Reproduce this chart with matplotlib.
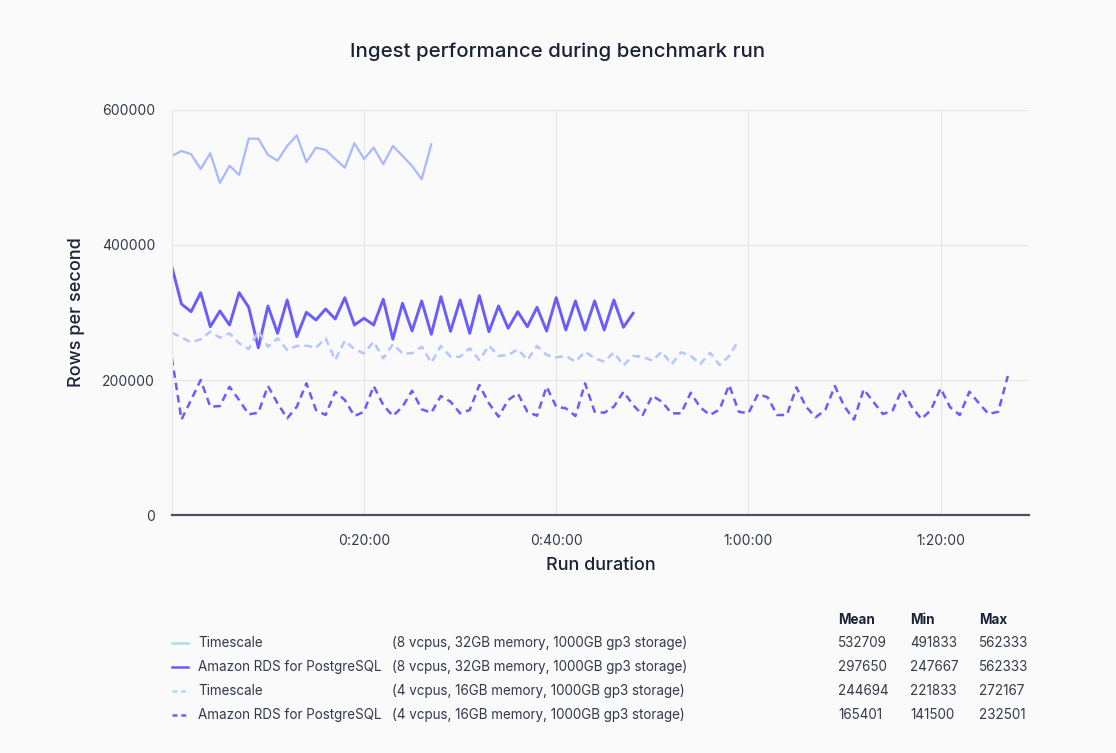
import numpy as np
import matplotlib
matplotlib.use("Agg")
import matplotlib.pyplot as plt
from matplotlib.lines import Line2D
from matplotlib.ticker import FixedLocator

plt.rcParams['font.family'] = ['Inter', 'DejaVu Sans']

# rows per second, one sample per minute of the run
ts_8cpu = [531852, 539259, 534370, 512593, 535852, 491833, 517481, 503704,
           557481, 557481, 533333, 524889, 546667, 562333, 522519, 544148,
           540741, 527407, 514519, 550667, 527407, 544148, 519556, 546667,
           531852, 517037, 497333, 549185]

rds_8cpu = [367852, 312593, 301185, 329333, 278963, 302222, 281481, 329333,
            307704, 247667, 309630, 269185, 318519, 264148, 300296, 288889,
            305185, 290370, 321926, 281481, 291407, 281481, 319556, 260296,
            313630, 272593, 317037, 267704, 323407, 272148, 318519, 269185,
            324889, 271556, 309630, 276593, 301185, 278963, 307704, 272593,
            321926, 274074, 317037, 274074, 317037, 274074, 318519, 278074,
            298815]

ts_4cpu = [270074, 263259, 255852, 260296, 271556, 262667, 269185, 254370,
           245926, 272167, 249333, 261778, 244444, 250370, 250815, 247852,
           261778, 229630, 258222, 245481, 239556, 256741, 232148, 252889,
           239556, 239556, 249333, 225630, 250370, 234519, 234519, 246963,
           229630, 250815, 235556, 237037, 245481, 229630, 250370, 237037,
           233630, 235556, 227111, 241926, 232148, 227111, 241037, 221833,
           235556, 234519, 228593, 241926, 223259, 241037, 235556, 223704,
           240444, 222222, 235556, 259259]

rds_4cpu = [232501, 141500, 170370, 200000, 160444, 161481, 190074, 170370,
            149185, 151556, 191111, 165481, 143259, 160444, 195111, 155556,
            148148, 182667, 170370, 146667, 153037, 191111, 162963, 146667,
            160444, 184148, 156593, 151556, 176296, 167852, 150667, 155556,
            192593, 165481, 145630, 170370, 180296, 153037, 147111, 190074,
            160444, 158074, 146667, 195111, 153037, 151556, 160444, 182667,
            162963, 148148, 176741, 167852, 150667, 150667, 181185, 159259,
            148148, 156296, 192593, 153037, 150667, 179259, 174370, 148148,
            148148, 189185, 160444, 144741, 155556, 191111, 160444, 141500,
            186222, 167852, 149630, 154519, 186222, 160444, 142222, 155556,
            187704, 159556, 148148, 182667, 165481, 149630, 153037, 205926]

names = ["Timescale", "Amazon RDS for PostgreSQL", "Timescale", "Amazon RDS for PostgreSQL"]
specs = ["(8 vcpus, 32GB memory, 1000GB gp3 storage)",
         "(8 vcpus, 32GB memory, 1000GB gp3 storage)",
         "(4 vcpus, 16GB memory, 1000GB gp3 storage)",
         "(4 vcpus, 16GB memory, 1000GB gp3 storage)"]
means = [532709, 297650, 244694, 165401]
mins = [491833, 247667, 221833, 141500]
maxs = [562333, 562333, 272167, 232501]

xticks = [20, 40, 60, 80]
xticklabels = ["0:20:00", "0:40:00", "1:00:00", "1:20:00"]
yticks = [0, 200000, 400000, 600000]

bg = "#fafafa"
dark = "#1b2236"
txt = "#333a4a"
c_ts = "#a9b9ff"
c_ts4 = "#b3c6ff"
c_rds = "#6a5cff"
c_ts_leg = "#a9dcf6"

fig = plt.figure(figsize=(11.16, 7.53), dpi=100, facecolor=bg)
ax = fig.add_axes([0.154, 0.316, 0.768, 0.538], facecolor=bg)

ax.plot(np.arange(len(ts_8cpu)), ts_8cpu, color=c_ts, lw=1.6)
ax.plot(np.arange(len(rds_8cpu)), rds_8cpu, color=c_rds, lw=2.1)
ax.plot(np.arange(len(ts_4cpu)), ts_4cpu, color=c_ts4, lw=1.8, ls=(0, (3, 2)))
ax.plot(np.arange(len(rds_4cpu)), rds_4cpu, color=c_rds, lw=1.8, ls=(0, (3, 2)))

ax.set_xlim(0, 89.2)
ax.set_ylim(0, 600000)
ax.xaxis.set_major_locator(FixedLocator(xticks))
ax.set_xticklabels(xticklabels)
ax.set_yticks(yticks)
ax.set_yticklabels([str(v) for v in yticks])
ax.tick_params(length=0, labelsize=10, colors=txt, pad=12)
ax.tick_params(axis='x', pad=14)
ax.grid(True, color="#e6e6e6", lw=0.8)
ax.set_axisbelow(True)
for s in ["top", "right"]:
    ax.spines[s].set_visible(False)
ax.spines["left"].set_color("#e6e6e6")
ax.spines["bottom"].set_color("#4a5163")
ax.spines["bottom"].set_linewidth(1.6)

ax.set_ylabel("Rows per second", fontsize=13, fontweight="medium", color=dark, labelpad=12)
ax.set_xlabel("Run duration", fontsize=13, fontweight="medium", color=dark, labelpad=6)
fig.text(0.5, 0.931, "Ingest performance during benchmark run", ha="center", va="center",
         fontsize=14.7, fontweight="medium", color=dark)

# legend table
row_y = [643, 667, 691, 715]
leg_colors = [c_ts_leg, c_rds, c_ts_leg, c_rds]
leg_styles = ["-", "-", (0, (2, 1.5)), (0, (2, 1.5))]
W, H = 1116.0, 753.0
fy = lambda p: 1 - p / H
fs = 9.7
fig.text(838 / W, fy(620), "Mean", fontsize=fs, fontweight="bold", color=dark, va="center")
fig.text(910 / W, fy(620), "Min", fontsize=fs, fontweight="bold", color=dark, va="center")
fig.text(979 / W, fy(620), "Max", fontsize=fs, fontweight="bold", color=dark, va="center")
for i in range(4):
    y = fy(row_y[i])
    fig.add_artist(Line2D([172 / W, 188 / W], [y, y], transform=fig.transFigure,
                          color=leg_colors[i], lw=1.8, ls=leg_styles[i]))
    fig.text(198 / W, y, names[i], fontsize=fs, color=txt, va="center")
    fig.text(392 / W, y, specs[i], fontsize=fs, color=txt, va="center")
    fig.text(838 / W, y, str(means[i]), fontsize=fs, color=txt, va="center")
    fig.text(910 / W, y, str(mins[i]), fontsize=fs, color=txt, va="center")
    fig.text(979 / W, y, str(maxs[i]), fontsize=fs, color=txt, va="center")

fig.savefig("out.png", dpi=100, facecolor=bg)
